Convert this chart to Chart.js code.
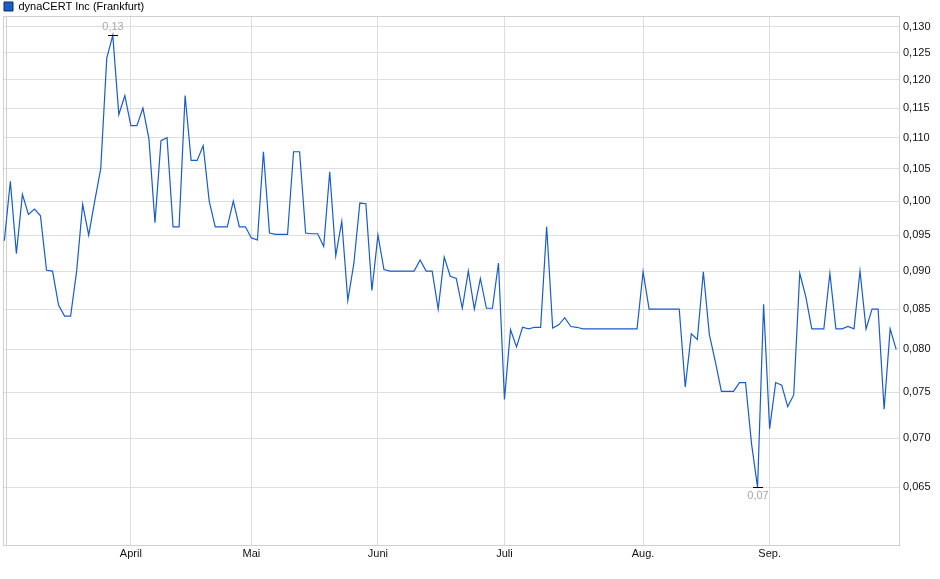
<!DOCTYPE html>
<html>
<head>
<meta charset="utf-8">
<script src="https://cdn.jsdelivr.net/npm/chart.js@4.4.1/dist/chart.umd.min.js"></script>
<style>
  html, body { margin: 0; padding: 0; background: #fff; }
  #wrap { position: relative; width: 940px; height: 579px; }
</style>
</head>
<body>
<div id="wrap"><canvas id="chart"></canvas></div>
<script>
// dynaCERT Inc (Frankfurt), one value per trading day
const seriesName = 'dynaCERT Inc (Frankfurt)';
const prices = [
  0.0942, 0.1030, 0.0924, 0.1010, 0.0980, 0.0988, 0.0978, 0.0901, 0.0900, 0.0855,
  0.0841, 0.0841, 0.0900, 0.0995, 0.0950, 0.1000, 0.1050, 0.1240, 0.1283, 0.1139,
  0.1172, 0.1120, 0.1120, 0.1150, 0.1098, 0.0968, 0.1095, 0.1100, 0.0962, 0.0962,
  0.1172, 0.1063, 0.1063, 0.1087, 0.1000, 0.0962, 0.0962, 0.0962, 0.1000, 0.0962,
  0.0962, 0.0946, 0.0943, 0.1077, 0.0953, 0.0951, 0.0951, 0.0951, 0.1077, 0.1077,
  0.0953, 0.0952, 0.0952, 0.0934, 0.1045, 0.0921, 0.0970, 0.0861, 0.0910, 0.0997,
  0.0996, 0.0874, 0.0950, 0.0902, 0.0900, 0.0900, 0.0900, 0.0900, 0.0900, 0.0915,
  0.0900, 0.0900, 0.0850, 0.0919, 0.0893, 0.0890, 0.0851, 0.0900, 0.0850, 0.0890,
  0.0851, 0.0851, 0.0911, 0.0742, 0.0824, 0.0803, 0.0827, 0.0825, 0.0827, 0.0827,
  0.0962, 0.0826, 0.0830, 0.0839, 0.0828, 0.0827, 0.0825, 0.0825, 0.0825, 0.0825,
  0.0825, 0.0825, 0.0825, 0.0825, 0.0825, 0.0825, 0.0899, 0.0850, 0.0850, 0.0850,
  0.0850, 0.0850, 0.0850, 0.0756, 0.0819, 0.0812, 0.0899, 0.0818, 0.0785, 0.0751,
  0.0751, 0.0751, 0.0761, 0.0761, 0.0694, 0.0650, 0.0856, 0.0710, 0.0761, 0.0758,
  0.0734, 0.0747, 0.0897, 0.0866, 0.0825, 0.0825, 0.0825, 0.0897, 0.0825, 0.0825,
  0.0828, 0.0825, 0.0900, 0.0825, 0.0850, 0.0850, 0.0731, 0.0825, 0.0800
];
// first trading day of each month (index into prices)
const monthStarts = [21, 41, 62, 83, 106, 127];
const monthLabels = ['April', 'Mai', 'Juni', 'Juli', 'Aug.', 'Sep.'];
const yTicks = [0.065, 0.070, 0.075, 0.080, 0.085, 0.090, 0.095, 0.100,
                0.105, 0.110, 0.115, 0.120, 0.125, 0.130];

const FONT = '"Liberation Sans", Arial, sans-serif';
const comma = (v, d) => v.toFixed(d).replace('.', ',');

// keep the legend strip thin
const legendHeight = {
  id: 'legendHeight',
  afterInit(chart) {
    const lg = chart.legend;
    const fit = lg.fit;
    lg.fit = function () {
      fit.call(this);
      this.height = 16;
    };
  }
};

// frame around plot area
const frame = {
  id: 'frame',
  beforeDatasetsDraw(chart) {
    const { ctx, chartArea: a } = chart;
    ctx.save();
    ctx.strokeStyle = '#d0d0d0';
    ctx.lineWidth = 1;
    ctx.strokeRect(Math.round(a.left) + 0.5, Math.round(a.top) + 0.5,
                   Math.round(a.right - a.left), Math.round(a.bottom - a.top));
    ctx.beginPath();
    ctx.moveTo(Math.round(a.left) + 3.5, a.top);
    ctx.lineTo(Math.round(a.left) + 3.5, a.bottom);
    ctx.stroke();
    ctx.restore();
  }
};

// high / low markers
const extremes = {
  id: 'extremes',
  afterDatasetsDraw(chart) {
    const { ctx, scales } = chart;
    let hi = 0, lo = 0;
    prices.forEach((v, i) => {
      if (v > prices[hi]) hi = i;
      if (v < prices[lo]) lo = i;
    });
    ctx.save();
    ctx.font = '11px ' + FONT;
    ctx.textAlign = 'center';
    [[hi, -1], [lo, 1]].forEach(([i, dir]) => {
      const x = Math.round(scales.x.getPixelForValue(i));
      const y = Math.round(scales.y.getPixelForValue(prices[i]));
      ctx.strokeStyle = '#000';
      ctx.lineWidth = 1;
      ctx.beginPath();
      ctx.moveTo(x - 5, y + 0.5);
      ctx.lineTo(x + 5, y + 0.5);
      ctx.stroke();
      ctx.fillStyle = '#a8a8a8';
      ctx.textBaseline = dir < 0 ? 'bottom' : 'top';
      ctx.fillText(comma(prices[i], 2), x, y + dir * 3);
    });
    ctx.restore();
  }
};

new Chart(document.getElementById('chart'), {
  type: 'line',
  data: {
    datasets: [{
      label: seriesName,
      data: prices.map((v, i) => ({ x: i, y: v })),
      borderColor: '#1b5cc6',
      backgroundColor: '#1b5cc6',
      borderWidth: 1.2,
      pointRadius: 0,
      tension: 0,
      fill: false
    }]
  },
  options: {
    responsive: true,
    maintainAspectRatio: false,
    animation: false,
    layout: { padding: { left: 3, right: 0, top: 0, bottom: 0 } },
    plugins: {
      legend: {
        position: 'top',
        align: 'start',
        labels: {
          boxWidth: 9,
          boxHeight: 9,
          padding: 1,
          color: '#222',
          font: { family: FONT, size: 11, lineHeight: 1 },
          generateLabels(chart) {
            return [{
              text: seriesName,
              fillStyle: '#1b5cc6',
              strokeStyle: '#0a2a66',
              lineWidth: 1,
              datasetIndex: 0
            }];
          }
        }
      },
      tooltip: { enabled: false }
    },
    scales: {
      x: {
        type: 'linear',
        min: -0.22,
        max: 148.47,
        afterBuildTicks(scale) {
          scale.ticks = monthStarts.map(v => ({ value: v }));
        },
        afterFit(scale) { scale.height = 34; },
        ticks: {
          autoSkip: false,
          maxRotation: 0,
          padding: 2,
          color: '#111',
          font: { family: FONT, size: 11 },
          callback: (v) => monthLabels[monthStarts.indexOf(v)]
        },
        grid: { color: '#dedede', drawTicks: false },
        border: { display: false }
      },
      y: {
        type: 'logarithmic',
        position: 'right',
        min: 0.0596,
        max: 0.1321,
        afterBuildTicks(scale) {
          scale.ticks = yTicks.map(v => ({ value: v }));
        },
        afterFit(scale) { scale.width = 41; },
        ticks: {
          autoSkip: false,
          padding: 4,
          color: '#111',
          font: { family: FONT, size: 11 },
          callback: (v) => comma(v, 3)
        },
        grid: { color: '#dedede', drawTicks: false },
        border: { display: false }
      }
    }
  },
  plugins: [legendHeight, frame, extremes]
});
</script>
</body>
</html>
